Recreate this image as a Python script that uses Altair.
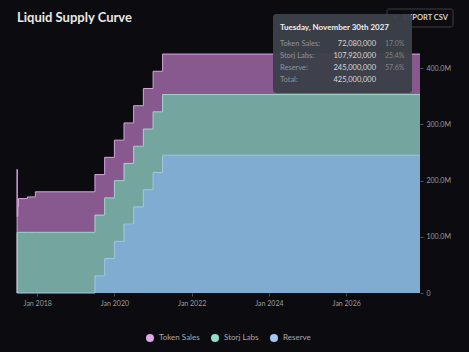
import altair as alt
import pandas as pd
from datetime import datetime

# ---------------- data ----------------
title_text = "Liquid Supply Curve"
button_text = "EXPORT CSV"
series_names = ["Token Sales", "Storj Labs", "Reserve"]
stack_rank = [2, 1, 0]  # Reserve at the bottom of the stack

dates = ["2017-06-24", "2017-06-25", "2017-06-26", "2017-07-02", "2017-07-08",
         "2017-10-01", "2017-12-15", "2019-07-01", "2019-10-01", "2020-01-01",
         "2020-04-01", "2020-07-01", "2020-10-01", "2021-01-01", "2021-04-01",
         "2027-11-30"]
token_sales = [0, 112000000, 28000000, 45000000, 60000000, 63000000, 72080000,
               72080000, 72080000, 72080000, 72080000, 72080000, 72080000,
               72080000, 72080000, 72080000]
storj_labs = [0, 107920000, 107920000, 107920000, 107920000, 107920000, 107920000,
              107920000, 107920000, 107920000, 107920000, 107920000, 107920000,
              107920000, 107920000, 107920000]
reserve = [0, 0, 0, 0, 0, 0, 0, 30625000, 61250000, 91875000, 122500000,
           153125000, 183750000, 214375000, 245000000, 245000000]

x_tick_years = [2018, 2020, 2022, 2024, 2026]
y_ticks = [0, 100000000, 200000000, 300000000, 400000000]
y_max = 450000000

# ---------------- styles ----------------
bg = "#0c0c10"
font = "Lato"
fill_colors = ["#87598f", "#74a59f", "#80acd1"]
stroke_colors = ["#d8a4df", "#a3dacd", "#a6c9e9"]
legend_colors = ["#dca8e6", "#90e0c6", "#a4c8f0"]
axis_label_color = "#9d9d9d"

rows = []
for i, d in enumerate(dates):
    for name, vals, rank in zip(series_names, [token_sales, storj_labs, reserve], stack_rank):
        rows.append({"date": d, "series": name, "value": vals[i], "rank": rank})
df = pd.DataFrame(rows)

x_enc = alt.X(
    "date:T",
    scale=alt.Scale(type="utc", nice=False),
    axis=alt.Axis(
        values=[alt.DateTime(year=y, month=1, date=1, utc=True) for y in x_tick_years],
        format="%b %Y", title=None, grid=False, domain=False,
        tickSize=3, tickColor="#555555", labelColor=axis_label_color,
        labelFont=font, labelFontSize=7, labelPadding=3,
    ),
)
y_enc = alt.Y(
    "value:Q", stack="zero",
    scale=alt.Scale(domain=[0, y_max], nice=False),
    axis=alt.Axis(
        orient="right", values=y_ticks, title=None, grid=False, domain=False,
        tickSize=3, tickColor="#555555", labelColor=axis_label_color,
        labelFont=font, labelFontSize=7, labelPadding=3,
        labelExpr="datum.value == 0 ? '0' : format(datum.value / 1000000, '.1f') + 'M'",
    ),
)

base = alt.Chart(df).encode(x=x_enc, y=y_enc, order=alt.Order("rank:Q"))

area = base.mark_area(interpolate="step-after").encode(
    fill=alt.Fill("series:N", scale=alt.Scale(domain=series_names, range=fill_colors), legend=None)
)
line = base.mark_line(interpolate="step-after", strokeWidth=1).encode(
    stroke=alt.Stroke("series:N", scale=alt.Scale(domain=series_names, range=stroke_colors), legend=None)
)

legend_layer = alt.Chart(df).transform_filter("false").mark_point(filled=True).encode(
    color=alt.Color(
        "series:N",
        scale=alt.Scale(domain=series_names, range=legend_colors),
        legend=alt.Legend(
            orient="none", legendX=129, legendY=294, direction="horizontal", title=None,
            symbolType="circle", symbolSize=64, symbolStrokeWidth=0, symbolOpacity=1,
            labelFont=font, labelFontSize=8, labelColor="#a8a8a8",
            labelOffset=5, columnPadding=11,
        ),
    )
)

# title
title_df = pd.DataFrame({"t": [title_text]})
title_layer = alt.Chart(title_df).mark_text(
    align="left", baseline="alphabetic", font=font, fontSize=13, fontWeight="bold", color="#e8e8e8"
).encode(x=alt.value(0), y=alt.value(-18), text="t:N")

# export button
btn_df = pd.DataFrame({"t": [button_text]})
btn_rect = alt.Chart(btn_df).mark_rect(fill=bg, stroke="#3e3e3e", strokeWidth=1, cornerRadius=2).encode(
    x=alt.value(370), x2=alt.value(436), y=alt.value(-31), y2=alt.value(-13)
)
btn_icon = alt.Chart(btn_df).mark_point(shape="triangle-down", filled=True, size=10, color="#e0e0e0", opacity=1).encode(
    x=alt.value(378), y=alt.value(-23)
)
btn_text = alt.Chart(btn_df).mark_text(
    align="left", baseline="middle", font=font, fontSize=7.5, fontWeight="bold", color="#d5d5d5"
).encode(x=alt.value(386), y=alt.value(-22), text="t:N")

# tooltip (hover state shown in reference)
last_vals = [token_sales[-1], storj_labs[-1], reserve[-1]]
total = sum(last_vals)
last_date = datetime.strptime(dates[-1], "%Y-%m-%d")
day = last_date.day
suffix = "th" if 11 <= day <= 13 else {1: "st", 2: "nd", 3: "rd"}.get(day % 10, "th")
header = f"{last_date.strftime('%A, %B')} {day}{suffix} {last_date.year}"
tip_labels = [n + ":" for n in series_names] + ["Total:"]
tip_values = [f"{v:,.0f}" for v in last_vals] + [f"{total:,.0f}"]
tip_pcts = [f"{v / total * 100:.1f}%" for v in last_vals] + [""]

tip_layers = []
tip_df0 = pd.DataFrame({"t": [header]})
tip_layers.append(
    alt.Chart(tip_df0).mark_rect(fill="#3c4048", cornerRadius=3, opacity=0.97).encode(
        x=alt.value(256), x2=alt.value(395), y=alt.value(-26), y2=alt.value(53)
    )
)
tip_layers.append(
    alt.Chart(tip_df0).mark_text(
        align="left", baseline="middle", font=font, fontSize=8, fontWeight="bold", color="#f0f0f0"
    ).encode(x=alt.value(263), y=alt.value(-12), text="t:N")
)
row_y = [3.5, 15.5, 27.5, 39.5]
for i in range(4):
    rdf = pd.DataFrame({"label": [tip_labels[i]], "value": [tip_values[i]], "pct": [tip_pcts[i]]})
    tip_layers.append(
        alt.Chart(rdf).mark_text(align="left", baseline="middle", font=font, fontSize=7.5, color="#8e939a")
        .encode(x=alt.value(263), y=alt.value(row_y[i]), text="label:N")
    )
    tip_layers.append(
        alt.Chart(rdf).mark_text(align="right", baseline="middle", font=font, fontSize=7.5, color="#dadada")
        .encode(x=alt.value(359), y=alt.value(row_y[i]), text="value:N")
    )
    tip_layers.append(
        alt.Chart(rdf).mark_text(align="left", baseline="middle", font=font, fontSize=7, color="#7d8289")
        .encode(x=alt.value(368), y=alt.value(row_y[i]), text="pct:N")
    )

chart = alt.layer(
    area, line, legend_layer, title_layer, btn_rect, btn_icon, btn_text, *tip_layers
).resolve_scale(color="independent", fill="independent", stroke="independent").properties(
    width=403, height=253,
    background=bg,
    padding={"left": 17, "top": 40, "right": 49, "bottom": 59},
    autosize=alt.AutoSizeParams(type="none"),
).configure_view(stroke=None)

chart.save("out.html", embed_options={"renderer": "svg", "actions": False})
